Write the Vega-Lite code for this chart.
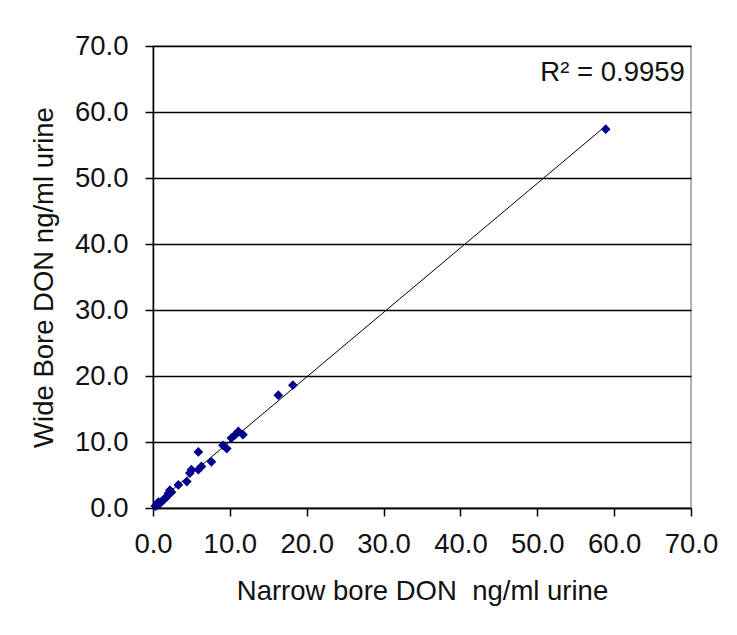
{
  "$schema": "https://vega.github.io/schema/vega-lite/v6.json",
  "width": 538,
  "height": 462,
  "autosize": "none",
  "padding": {"left": 153, "top": 46, "right": 46, "bottom": 127},
  "background": "white",
  "config": {
    "font": "Liberation Sans",
    "view": {"stroke": "#999999", "strokeWidth": 1.5},
    "axis": {
      "domainColor": "black",
      "domainWidth": 1.5,
      "tickColor": "black",
      "tickWidth": 1.5,
      "tickSize": 8,
      "labelFlush": false,
      "labelOverlap": false,
      "labelFont": "Liberation Sans",
      "labelFontSize": 27.5,
      "labelColor": "#111111",
      "titleFont": "Liberation Sans",
      "titleFontSize": 27.5,
      "titleFontWeight": "normal",
      "titleColor": "#111111"
    }
  },
  "datasets": {
    "points": [
      {"narrow": 0.3, "wide": 0.3},
      {"narrow": 0.5, "wide": 0.4},
      {"narrow": 0.7, "wide": 0.9},
      {"narrow": 0.9, "wide": 0.7},
      {"narrow": 1.3, "wide": 1.2},
      {"narrow": 1.5, "wide": 1.4},
      {"narrow": 1.8, "wide": 1.7},
      {"narrow": 2.0, "wide": 2.2},
      {"narrow": 2.2, "wide": 2.7},
      {"narrow": 2.4, "wide": 2.4},
      {"narrow": 3.3, "wide": 3.5},
      {"narrow": 4.4, "wide": 4.0},
      {"narrow": 4.8, "wide": 5.3},
      {"narrow": 5.0, "wide": 5.8},
      {"narrow": 5.9, "wide": 5.8},
      {"narrow": 6.3, "wide": 6.3},
      {"narrow": 5.9, "wide": 8.5},
      {"narrow": 7.6, "wide": 7.0},
      {"narrow": 9.1, "wide": 9.5},
      {"narrow": 9.6, "wide": 9.0},
      {"narrow": 10.2, "wide": 10.6},
      {"narrow": 10.7, "wide": 11.1},
      {"narrow": 11.1, "wide": 11.6},
      {"narrow": 11.7, "wide": 11.1},
      {"narrow": 16.3, "wide": 17.1},
      {"narrow": 18.2, "wide": 18.6},
      {"narrow": 58.9, "wide": 57.4}
    ],
    "label": [{"narrow": 69.2, "wide": 65.9, "text": "R² = 0.9959"}]
  },
  "layer": [
    {
      "data": {"name": "points"},
      "transform": [{"regression": "wide", "on": "narrow"}],
      "mark": {"type": "line", "color": "black", "strokeWidth": 1},
      "encoding": {
        "x": {
          "field": "narrow",
          "type": "quantitative",
          "scale": {"domain": [0, 70], "nice": false},
          "axis": {
            "values": [0, 10, 20, 30, 40, 50, 60, 70],
            "format": ".1f",
            "grid": false,
            "labelPadding": 14,
            "title": "Narrow bore DON\u00a0 ng/ml urine",
            "titlePadding": 20
          }
        },
        "y": {
          "field": "wide",
          "type": "quantitative",
          "scale": {"domain": [0, 70], "nice": false},
          "axis": {
            "values": [0, 10, 20, 30, 40, 50, 60, 70],
            "format": ".1f",
            "grid": true,
            "gridColor": "black",
            "gridWidth": 1.5,
            "gridOpacity": 1,
            "labelPadding": 17,
            "title": "Wide Bore DON ng/ml urine",
            "titlePadding": 16
          }
        }
      }
    },
    {
      "data": {"name": "points"},
      "mark": {"type": "point", "shape": "diamond", "filled": true, "color": "#00008B", "size": 95, "opacity": 1},
      "encoding": {
        "x": {"field": "narrow", "type": "quantitative"},
        "y": {"field": "wide", "type": "quantitative"}
      }
    },
    {
      "data": {"name": "label"},
      "mark": {"type": "text", "align": "right", "baseline": "middle", "fontSize": 27.5, "font": "Liberation Sans", "color": "#111111"},
      "encoding": {
        "x": {"field": "narrow", "type": "quantitative"},
        "y": {"field": "wide", "type": "quantitative"},
        "text": {"field": "text"}
      }
    }
  ]
}
